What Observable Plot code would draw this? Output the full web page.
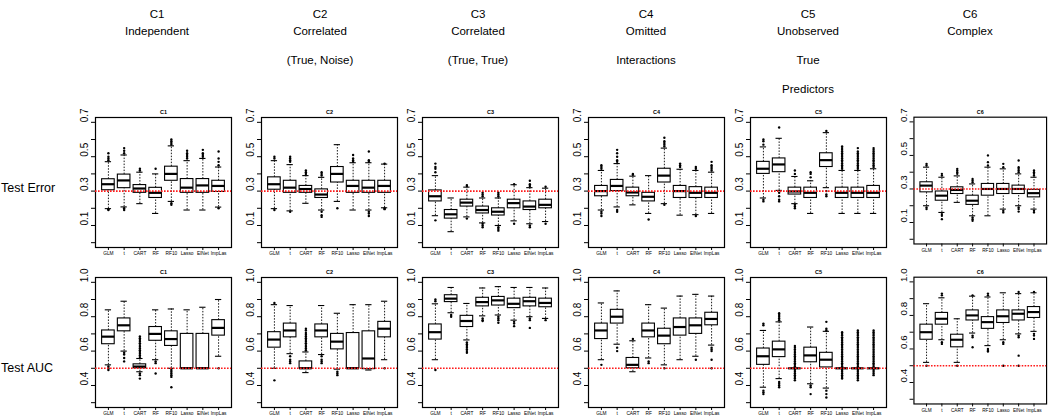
<!DOCTYPE html>
<html>
<head>
<meta charset="utf-8">
<script src="https://cdn.jsdelivr.net/npm/d3@7"></script>
<script src="https://cdn.jsdelivr.net/npm/@observablehq/plot@0.6"></script>
<style>
  html, body { margin: 0; padding: 0; background: white; }
  #wrap { position: relative; width: 1050px; height: 418px; overflow: hidden; font-family: "Liberation Sans", Arial, Helvetica, sans-serif; color: #000; }
  .hdr { position: absolute; transform: translate(-50%, -50%); white-space: nowrap; font-size: 11.5px; }
  .row { position: absolute; transform: translateY(-50%); white-space: nowrap; font-size: 12.5px; }
  .panel { position: absolute; }
</style>
</head>
<body>
<div id="wrap"></div>
<script>
const methods = ["GLM", "t", "CART", "RF", "RF10", "Lasso", "ElNet", "ImpLas"];
const conditions = ["C1", "C2", "C3", "C4", "C5", "C6"];
const headerLines = [
  ["Independent"],
  ["Correlated", "(True, Noise)"],
  ["Correlated", "(True, True)"],
  ["Omitted", "Interactions"],
  ["Unobserved", "True", "Predictors"],
  ["Complex"]
];
const rowLabels = ["Test Error", "Test AUC"];
const errTicks = [0.0, 0.1, 0.2, 0.3, 0.4, 0.5, 0.6, 0.7];
const errTickLabels = [0.1, 0.3, 0.5, 0.7];
const aucTicks = [0.3, 0.4, 0.5, 0.6, 0.7, 0.8, 0.9, 1.0];
const aucTickLabels = [0.4, 0.6, 0.8, 1.0];
const errRef = 0.3;
const aucRef = 0.5;

// ---- Test Error summaries (rows: C1..C6, columns: methods) ----
const errQ1 = [
  [0.305, 0.317, 0.29, 0.26, 0.36, 0.29, 0.29, 0.295],
  [0.308, 0.29, 0.29, 0.26, 0.35, 0.29, 0.29, 0.29],
  [0.24, 0.14, 0.21, 0.17, 0.158, 0.20, 0.19, 0.20],
  [0.27, 0.30, 0.27, 0.24, 0.35, 0.26, 0.26, 0.26],
  [0.40, 0.41, 0.28, 0.26, 0.44, 0.26, 0.26, 0.26],
  [0.28, 0.23, 0.27, 0.205, 0.26, 0.27, 0.27, 0.25]
];
const errMed = [
  [0.34, 0.362, 0.315, 0.29, 0.40, 0.32, 0.333, 0.33],
  [0.34, 0.32, 0.312, 0.28, 0.40, 0.33, 0.32, 0.33],
  [0.27, 0.165, 0.233, 0.19, 0.18, 0.23, 0.21, 0.22],
  [0.30, 0.33, 0.292, 0.267, 0.39, 0.30, 0.29, 0.29],
  [0.43, 0.455, 0.298, 0.29, 0.48, 0.29, 0.29, 0.29],
  [0.32, 0.26, 0.294, 0.23, 0.30, 0.30, 0.30, 0.275]
];
const errQ3 = [
  [0.369, 0.396, 0.335, 0.319, 0.442, 0.37, 0.37, 0.36],
  [0.38, 0.36, 0.33, 0.31, 0.44, 0.36, 0.36, 0.36],
  [0.304, 0.19, 0.25, 0.21, 0.20, 0.25, 0.24, 0.25],
  [0.33, 0.365, 0.32, 0.29, 0.43, 0.33, 0.323, 0.32],
  [0.47, 0.49, 0.32, 0.32, 0.52, 0.32, 0.32, 0.33],
  [0.34, 0.285, 0.31, 0.26, 0.33, 0.33, 0.32, 0.295]
];
const errLo = [
  [0.198, 0.208, 0.227, 0.17, 0.24, 0.19, 0.19, 0.207],
  [0.198, 0.185, 0.229, 0.19, 0.24, 0.19, 0.19, 0.203],
  [0.157, 0.064, 0.15, 0.115, 0.10, 0.127, 0.11, 0.123],
  [0.19, 0.208, 0.22, 0.17, 0.227, 0.16, 0.163, 0.17],
  [0.26, 0.304, 0.227, 0.17, 0.32, 0.17, 0.17, 0.17],
  [0.20, 0.16, 0.22, 0.14, 0.14, 0.18, 0.20, 0.18]
];
const errHi = [
  [0.471, 0.51, 0.41, 0.40, 0.563, 0.477, 0.49, 0.44],
  [0.477, 0.454, 0.39, 0.38, 0.57, 0.465, 0.465, 0.457],
  [0.39, 0.26, 0.323, 0.26, 0.26, 0.337, 0.32, 0.317],
  [0.42, 0.46, 0.387, 0.39, 0.55, 0.427, 0.42, 0.41],
  [0.557, 0.607, 0.385, 0.36, 0.64, 0.42, 0.42, 0.43],
  [0.43, 0.37, 0.378, 0.33, 0.43, 0.42, 0.39, 0.37]
];
const errOut = [
  [[0.48, 0.49, 0.50, 0.52, 0.19, 0.195], [0.52, 0.535, 0.55, 0.19, 0.20], [0.42, 0.43], [0.43], [0.57, 0.58, 0.59, 0.60, 0.23, 0.22], [0.49, 0.50, 0.51, 0.52, 0.535], [0.50, 0.51, 0.52, 0.54], [0.45, 0.47, 0.49, 0.53, 0.20]],
  [[0.49, 0.50, 0.19], [0.47, 0.48, 0.49, 0.50, 0.18], [0.40, 0.41, 0.42], [0.39, 0.40, 0.41, 0.18, 0.16, 0.15], [0.20], [0.47, 0.48, 0.49, 0.51], [0.47, 0.48, 0.53, 0.18, 0.17, 0.155], [0.46, 0.20, 0.195]],
  [[0.41, 0.43, 0.44, 0.46, 0.13], [], [0.33, 0.335, 0.14], [0.27, 0.28, 0.29, 0.11, 0.10, 0.09], [0.27, 0.28, 0.29, 0.09, 0.08, 0.07], [0.34, 0.11], [0.33, 0.34, 0.36, 0.10, 0.09], [0.325, 0.11]],
  [[0.43, 0.44, 0.45, 0.18, 0.17, 0.155], [0.47, 0.48, 0.50, 0.52, 0.54, 0.19, 0.18], [0.395, 0.40], [0.135], [0.56, 0.57, 0.58, 0.59, 0.61, 0.22], [0.44, 0.45, 0.46], [0.43, 0.44, 0.155], [0.42, 0.43, 0.44, 0.45, 0.47]],
  [[0.57, 0.59, 0.60, 0.25, 0.24], [0.67, 0.29, 0.27, 0.25, 0.24], [0.40, 0.42, 0.22, 0.21, 0.20], [0.38, 0.40, 0.41], [0.65, 0.30, 0.28, 0.27],
   [0.43, 0.44, 0.45, 0.46, 0.47, 0.48, 0.49, 0.50, 0.51, 0.52, 0.53, 0.54, 0.55, 0.56],
   [0.43, 0.44, 0.45, 0.46, 0.47, 0.48, 0.49, 0.50, 0.51, 0.52, 0.53, 0.55],
   [0.44, 0.45, 0.46, 0.47, 0.48, 0.49, 0.50, 0.51, 0.52, 0.53, 0.54, 0.55]],
  [[0.44, 0.45, 0.19, 0.18], [0.38, 0.39, 0.15, 0.14, 0.12], [0.39, 0.40, 0.41, 0.42], [0.34, 0.35, 0.36, 0.13, 0.12, 0.11], [0.44, 0.46, 0.50], [0.43, 0.45, 0.17, 0.16], [0.40, 0.41, 0.42, 0.43, 0.47, 0.19, 0.18, 0.165], [0.38, 0.39, 0.40, 0.41, 0.17, 0.16]]
];

// ---- Test AUC summaries ----
const aucQ1 = [
  [0.64, 0.715, 0.50, 0.66, 0.63, 0.50, 0.50, 0.69],
  [0.62, 0.68, 0.50, 0.68, 0.61, 0.50, 0.495, 0.68],
  [0.667, 0.885, 0.74, 0.86, 0.865, 0.85, 0.86, 0.855],
  [0.67, 0.76, 0.50, 0.68, 0.64, 0.69, 0.70, 0.75],
  [0.52, 0.565, 0.50, 0.535, 0.505, 0.50, 0.50, 0.50],
  [0.655, 0.745, 0.61, 0.77, 0.72, 0.755, 0.77, 0.785]
];
const aucMed = [
  [0.684, 0.75, 0.51, 0.70, 0.67, 0.50, 0.50, 0.735],
  [0.667, 0.72, 0.50, 0.72, 0.655, 0.50, 0.557, 0.73],
  [0.71, 0.905, 0.775, 0.885, 0.895, 0.875, 0.89, 0.88],
  [0.72, 0.80, 0.52, 0.72, 0.69, 0.74, 0.75, 0.787],
  [0.57, 0.61, 0.50, 0.575, 0.55, 0.50, 0.50, 0.50],
  [0.70, 0.78, 0.655, 0.80, 0.76, 0.795, 0.81, 0.82]
];
const aucQ3 = [
  [0.72, 0.79, 0.523, 0.74, 0.715, 0.70, 0.70, 0.78],
  [0.71, 0.76, 0.54, 0.755, 0.70, 0.705, 0.715, 0.77],
  [0.755, 0.925, 0.805, 0.91, 0.915, 0.905, 0.91, 0.905],
  [0.76, 0.84, 0.56, 0.76, 0.73, 0.79, 0.79, 0.823],
  [0.615, 0.655, 0.50, 0.62, 0.59, 0.50, 0.50, 0.50],
  [0.745, 0.815, 0.685, 0.83, 0.79, 0.83, 0.83, 0.85]
];
const aucLo = [
  [0.52, 0.60, 0.48, 0.55, 0.50, 0.50, 0.50, 0.57],
  [0.50, 0.585, 0.475, 0.58, 0.495, 0.50, 0.49, 0.55],
  [0.55, 0.823, 0.665, 0.805, 0.81, 0.78, 0.80, 0.79],
  [0.55, 0.64, 0.48, 0.56, 0.52, 0.55, 0.57, 0.635],
  [0.39, 0.44, 0.50, 0.41, 0.385, 0.50, 0.50, 0.50],
  [0.52, 0.655, 0.52, 0.695, 0.62, 0.655, 0.69, 0.705]
];
const aucHi = [
  [0.84, 0.89, 0.557, 0.84, 0.845, 0.84, 0.855, 0.90],
  [0.87, 0.865, 0.595, 0.865, 0.82, 0.87, 0.87, 0.89],
  [0.875, 0.97, 0.877, 0.967, 0.975, 0.97, 0.97, 0.967],
  [0.88, 0.95, 0.66, 0.87, 0.85, 0.92, 0.93, 0.92],
  [0.72, 0.77, 0.50, 0.74, 0.715, 0.50, 0.50, 0.50],
  [0.87, 0.905, 0.78, 0.915, 0.91, 0.935, 0.93, 0.935]
];
const aucOut = [
  [[0.51, 0.50, 0.49], [0.59, 0.58, 0.56, 0.54],
   [0.565, 0.575, 0.585, 0.595, 0.605, 0.615, 0.625, 0.635, 0.645, 0.655, 0.665, 0.675, 0.685, 0.47, 0.46, 0.44],
   [0.54, 0.53, 0.47], [0.49, 0.48, 0.47, 0.46, 0.45, 0.39], [], [], [0.50]],
  [[0.88, 0.43], [0.57, 0.55, 0.54, 0.53],
   [0.605, 0.615, 0.625, 0.635, 0.645, 0.655, 0.665, 0.675, 0.685, 0.695, 0.705, 0.72, 0.73],
   [0.57, 0.55, 0.54, 0.53], [0.48, 0.47, 0.46], [], [], [0.50]],
  [[0.89, 0.90, 0.49], [0.81, 0.80], [0.65, 0.64, 0.63, 0.62, 0.61, 0.60, 0.59], [0.79, 0.78, 0.775], [0.80, 0.79, 0.78, 0.765], [0.77, 0.76, 0.745], [0.79, 0.78, 0.735], [0.78]],
  [[0.52], [0.62, 0.60], [0.67], [0.54, 0.53], [0.50], [], [0.55], [0.62, 0.61, 0.60, 0.55, 0.50]],
  [[0.75, 0.76, 0.37, 0.36, 0.35], [0.78, 0.79, 0.80, 0.81, 0.82, 0.42, 0.41, 0.40, 0.39],
   [0.43, 0.44, 0.45, 0.46, 0.47, 0.48, 0.49, 0.51, 0.52, 0.53, 0.54, 0.55, 0.56, 0.57, 0.58, 0.59, 0.60, 0.61, 0.62, 0.63],
   [0.40, 0.39, 0.35], [0.72, 0.73, 0.77, 0.37, 0.35, 0.33],
   [0.44, 0.45, 0.46, 0.47, 0.48, 0.49, 0.51, 0.52, 0.53, 0.54, 0.55, 0.56, 0.57, 0.58, 0.59, 0.60, 0.61, 0.62, 0.63, 0.64, 0.65, 0.66, 0.67, 0.68, 0.69, 0.70, 0.71],
   [0.43, 0.44, 0.45, 0.46, 0.47, 0.48, 0.49, 0.51, 0.52, 0.53, 0.54, 0.55, 0.56, 0.57, 0.58, 0.59, 0.60, 0.61, 0.62, 0.63, 0.64, 0.65, 0.66, 0.67, 0.68, 0.69, 0.70, 0.71, 0.72],
   [0.46, 0.47, 0.48, 0.49, 0.51, 0.52, 0.53, 0.54, 0.55, 0.56, 0.57, 0.58, 0.59, 0.60, 0.61, 0.62, 0.63, 0.64, 0.65, 0.66, 0.67, 0.68, 0.69, 0.70, 0.71, 0.72]],
  [[0.50], [0.92, 0.93, 0.64, 0.63], [0.50], [0.92, 0.68, 0.67, 0.61], [0.92, 0.93, 0.60, 0.59, 0.585], [0.64, 0.63, 0.50], [0.94, 0.68, 0.67, 0.56, 0.50], [0.94, 0.69, 0.68, 0.66]]
];

// ---- layout ----
const frameLefts = [95, 261, 422, 588, 750, 914];
const frameW = 136, frameH = 130;
const rowFrameTops = [117, 277];
const headerX = [157, 320, 478, 646, 808, 970];
const headerY = [14, 31, 60, 89];
const rowLabelY = [188, 368];
const mL = 22, mR = 4, mT = 12, mB = 15;

const wrap = document.getElementById("wrap");

conditions.forEach((c, ci) => {
  const lines = [c, ...headerLines[ci]];
  lines.forEach((t, li) => {
    const d = document.createElement("div");
    d.className = "hdr";
    d.textContent = t;
    d.style.left = headerX[ci] + "px";
    d.style.top = headerY[li] + "px";
    wrap.appendChild(d);
  });
});
rowLabels.forEach((t, ri) => {
  const d = document.createElement("div");
  d.className = "row";
  d.textContent = t;
  d.style.left = "1px";
  d.style.top = rowLabelY[ri] + "px";
  wrap.appendChild(d);
});

const positions = methods.map((m, i) => i + 1);

function panel(ci, ri) {
  const isErr = ri === 0;
  const Q1 = isErr ? errQ1 : aucQ1, MED = isErr ? errMed : aucMed, Q3 = isErr ? errQ3 : aucQ3;
  const LO = isErr ? errLo : aucLo, HI = isErr ? errHi : aucHi, OUT = isErr ? errOut : aucOut;
  const ticks = isErr ? errTicks : aucTicks;
  const labels = isErr ? errTickLabels : aucTickLabels;
  const ref = isErr ? errRef : aucRef;
  const ylim = isErr ? [0.0, 0.7] : [0.3, 1.0];
  const ext = (ylim[1] - ylim[0]) * 0.04;
  const rows = methods.map((m, i) => ({
    pos: i + 1, method: m,
    q1: Q1[ci][i], med: MED[ci][i], q3: Q3[ci][i], lo: LO[ci][i], hi: HI[ci][i]
  }));
  const outs = OUT[ci].flatMap((arr, i) => arr.map(v => ({pos: i + 1, v})));
  const hw = 0.4, sw = 0.2;
  return Plot.plot({
    width: mL + frameW + mR,
    height: mT + frameH + mB,
    marginLeft: mL, marginRight: mR, marginTop: mT, marginBottom: mB,
    style: {fontFamily: "Liberation Sans, Arial, Helvetica, sans-serif", background: "transparent", overflow: "visible", color: "black"},
    x: {type: "linear", domain: [0.5 - 8 * 0.04, 8.5 + 8 * 0.04]},
    y: {type: "linear", domain: [ylim[0] - ext, ylim[1] + ext]},
    marks: [
      Plot.axisY({ticks: ticks, tickFormat: () => "", tickSize: 4, label: null, stroke: "black", strokeWidth: 1}),
      Plot.text(labels, {y: d => d, text: d => d.toFixed(1), frameAnchor: "left", dx: -10.5, rotate: -90, fontSize: 10, fill: "black"}),
      Plot.axisX({ticks: positions, tickFormat: i => methods[i - 1], tickSize: 3, tickPadding: 1.5, fontSize: 4.8, label: null, stroke: "black"}),
      Plot.text([conditions[ci]], {frameAnchor: "top", dy: -7, fontSize: 5.5, fontWeight: "bold", fill: "black"}),
      Plot.ruleX(rows, {x: "pos", y1: "q3", y2: "hi", stroke: "black", strokeWidth: 0.9, strokeDasharray: "1.5,1.5"}),
      Plot.ruleX(rows, {x: "pos", y1: "lo", y2: "q1", stroke: "black", strokeWidth: 0.9, strokeDasharray: "1.5,1.5"}),
      Plot.ruleY(rows, {y: "hi", x1: d => d.pos - sw, x2: d => d.pos + sw, stroke: "black", strokeWidth: 1.1}),
      Plot.ruleY(rows, {y: "lo", x1: d => d.pos - sw, x2: d => d.pos + sw, stroke: "black", strokeWidth: 1.1}),
      Plot.rect(rows, {x1: d => d.pos - hw, x2: d => d.pos + hw, y1: "q1", y2: "q3", fill: "none", stroke: "black", strokeWidth: 1.1}),
      Plot.ruleY(rows, {y: "med", x1: d => d.pos - hw, x2: d => d.pos + hw, stroke: "black", strokeWidth: 2.2}),
      Plot.dot(outs, {x: "pos", y: "v", r: 1.2, fill: "black", stroke: "none"}),
      Plot.frame({stroke: "black", strokeWidth: 1.2}),
      Plot.ruleY([ref], {stroke: "#ff1a1a", strokeWidth: 1.6, strokeDasharray: "1.6,1.4"})
    ]
  });
}

[0, 1].forEach(ri => {
  conditions.forEach((c, ci) => {
    const svg = panel(ci, ri);
    const holder = document.createElement("div");
    holder.className = "panel";
    holder.style.left = (frameLefts[ci] - mL) + "px";
    holder.style.top = (rowFrameTops[ri] - mT) + "px";
    holder.appendChild(svg);
    wrap.appendChild(holder);
  });
});
</script>
</body>
</html>
